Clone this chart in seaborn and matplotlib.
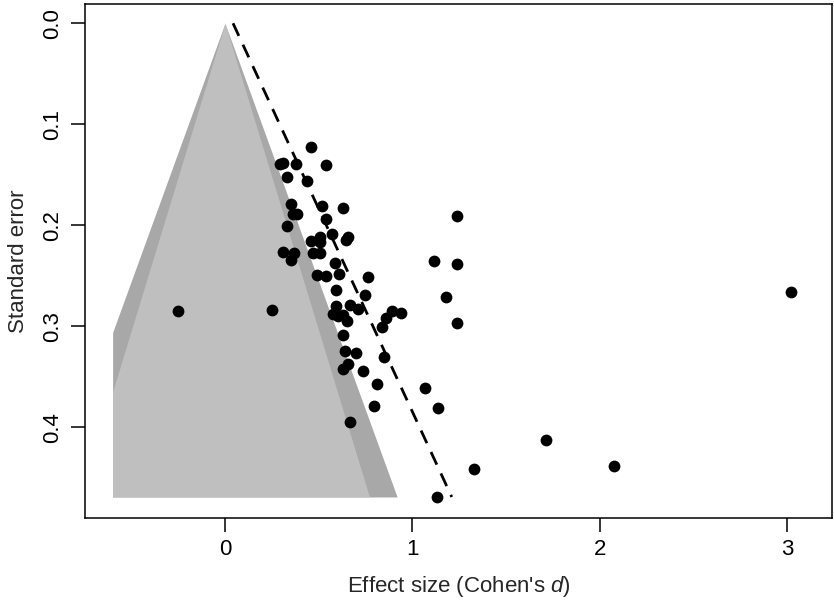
import numpy as np
import pandas as pd
import matplotlib
matplotlib.use("Agg")
import matplotlib.pyplot as plt
import seaborn as sns

# Study effect sizes (Cohen's d) and their standard errors
effect = [-0.251, 0.249, 3.022, 1.714, 2.077, 1.329, 1.132, 1.068, 1.139, 1.116,
          1.180, 1.239, 1.237, 1.237, 0.667, 0.797, 0.810, 0.849, 0.838, 0.860,
          0.890, 0.940, 0.765, 0.749, 0.738, 0.699, 0.641, 0.658, 0.632, 0.632,
          0.593, 0.593, 0.667, 0.708, 0.578, 0.605, 0.632, 0.650, 0.610, 0.539,
          0.490, 0.587, 0.351, 0.308, 0.368, 0.468, 0.507, 0.459, 0.507, 0.507,
          0.658, 0.646, 0.570, 0.329, 0.539, 0.365, 0.383, 0.352, 0.516, 0.628,
          0.329, 0.440, 0.294, 0.311, 0.379, 0.539, 0.459]
std_err = [0.285, 0.284, 0.266, 0.413, 0.438, 0.441, 0.469, 0.361, 0.381, 0.235,
           0.271, 0.191, 0.238, 0.297, 0.395, 0.379, 0.357, 0.330, 0.301, 0.292,
           0.285, 0.287, 0.251, 0.269, 0.344, 0.326, 0.324, 0.337, 0.342, 0.309,
           0.264, 0.280, 0.279, 0.283, 0.288, 0.290, 0.289, 0.295, 0.248, 0.250,
           0.249, 0.237, 0.234, 0.226, 0.227, 0.227, 0.227, 0.216, 0.212, 0.217,
           0.212, 0.215, 0.209, 0.201, 0.194, 0.189, 0.189, 0.179, 0.181, 0.183,
           0.152, 0.156, 0.139, 0.138, 0.139, 0.140, 0.122]

# contour levels (z for p = .05 and p = .10) and regression line
z_levels = [1.96, 1.645]
z_colors = ["#a8a8a8", "#bfbfbf"]
funnel_xmin = -0.6
line_intercept = 0.043
line_slope = 2.49

df = pd.DataFrame({"d": effect, "se": std_err})
se_max = df["se"].max()

sns.set_theme(style="ticks")
plt.rcParams["font.family"] = ["Liberation Sans", "DejaVu Sans"]
plt.rcParams["mathtext.fontset"] = "custom"
plt.rcParams["mathtext.it"] = "Liberation Sans:italic"
plt.rcParams["mathtext.rm"] = "Liberation Sans"

fig = plt.figure(figsize=(8.34, 6.04), dpi=100)
ax = fig.add_axes([0.102, 0.1424, 0.8956, 0.851])

# contour-enhanced funnel
se_grid = np.linspace(0, se_max, 300)
for z, col in zip(z_levels, z_colors):
    ax.fill_betweenx(se_grid, np.maximum(-z * se_grid, funnel_xmin), z * se_grid,
                     color=col, linewidth=0, zorder=1)

# regression line
line_df = pd.DataFrame({"se": [0, se_max]})
line_df["d"] = line_intercept + line_slope * line_df["se"]
sns.lineplot(data=line_df, x="d", y="se", ax=ax, color="black", linestyle=(0, (5, 3.5)),
             linewidth=2, sort=False, zorder=2)

sns.scatterplot(data=df, x="d", y="se", ax=ax, color="black", s=72,
                edgecolor="black", linewidth=0, zorder=3)

ax.set_xlim(-0.747, 3.241)
ax.set_ylim(0.4898, -0.0191)
ax.set_xticks([0, 1, 2, 3])
ax.set_yticks([0.0, 0.1, 0.2, 0.3, 0.4])
ax.set_yticklabels(["0.0", "0.1", "0.2", "0.3", "0.4"], rotation=90, va="center")
ax.tick_params(axis="both", direction="out", length=10, width=1.1, labelsize=16,
               color="black", labelcolor="black")
ax.tick_params(axis="x", pad=5)
ax.tick_params(axis="y", pad=6)
for s in ax.spines.values():
    s.set_visible(True)
    s.set_linewidth(1.1)
    s.set_color("black")

ax.set_xlabel("Effect size (Cohen's $d$)", fontsize=16, labelpad=10)
ax.set_ylabel("Standard error", fontsize=16, labelpad=9)

fig.savefig("out.png", dpi=100)
